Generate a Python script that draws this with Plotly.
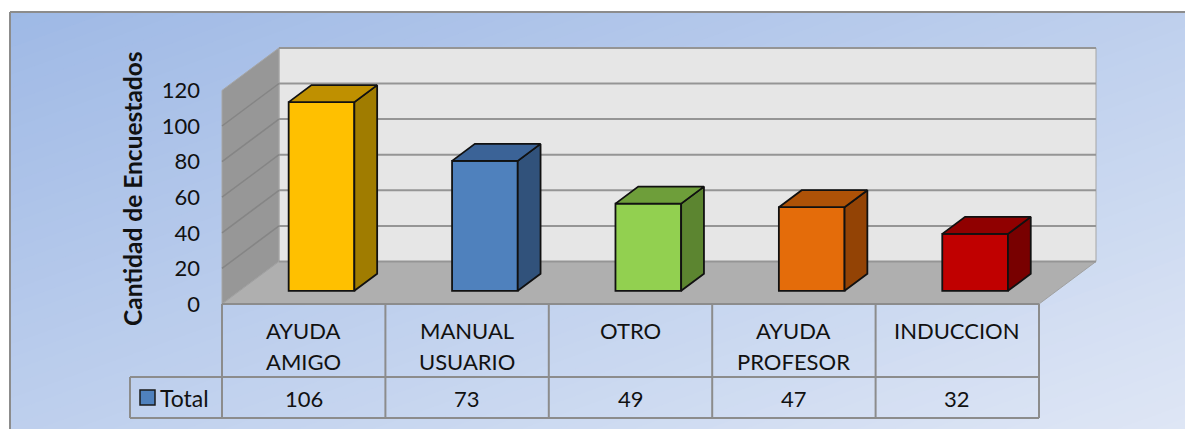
import plotly.graph_objects as go

# ---------------- data ----------------
categories = ["AYUDA\nAMIGO", "MANUAL\nUSUARIO", "OTRO", "AYUDA\nPROFESOR", "INDUCCION"]
values = [106, 73, 49, 47, 32]
series_name = "Total"
y_ticks = [0, 20, 40, 60, 80, 100, 120]
y_title = "Cantidad de Encuestados"

# ---------------- styles ----------------
front_colors = ["#FFC000", "#4F81BD", "#92D050", "#E46C0A", "#C00000"]
top_colors = ["#BF9000", "#3B6397", "#6E9E3A", "#AE5207", "#900000"]
side_colors = ["#A07C00", "#31527B", "#5C8530", "#934305", "#780000"]
FONT = "Lato"

W, H = 1185, 429
CAT_PX = 163.4      # pixel width of one category
X0_PX = 303.7       # pixel x of first category centre
Y0_PX = 304.0       # pixel y of value 0 on the front plane
UNIT_PX = 1.78      # pixels per value unit


def xd(px):
    return (px - X0_PX) / CAT_PX


def yd(py):
    return (Y0_PX - py) / UNIT_PX


DX = 57 / CAT_PX          # full floor depth, horizontal (category units)
DY = 42.5 / UNIT_PX       # full floor depth, vertical (value units)
WALL_TOP = y_ticks[-1]
D0, D1 = 0.31, 0.71       # bar depth span (fraction of floor depth)
BAR_L, BAR_R = -0.092, 0.31
N = len(categories)
XL, XR = -0.5, N - 0.5

fig = go.Figure()

# ---------------- background gradient (paper) ----------------
shapes = []
c_start = (157, 184, 229)
c_end = (222, 230, 245)
nb = 70
lo, hi = -0.05, 1.05
for k in range(nb):
    c0 = lo + (hi - lo) * k / nb
    c1 = lo + (hi - lo) * (k + 1) / nb + 0.003
    t = min(max((c0 + c1) / 2, 0), 1)
    col = "rgb(%d,%d,%d)" % tuple(round(a + (b - a) * t) for a, b in zip(c_start, c_end))
    pts = [(-0.05, -0.05 + 1 - 2 * c0), (1.05, 1.05 + 1 - 2 * c0),
           (1.05, 1.05 + 1 - 2 * c1), (-0.05, -0.05 + 1 - 2 * c1)]
    path = "M " + " L ".join("%f,%f" % p for p in pts) + " Z"
    shapes.append(dict(type="path", xref="paper", yref="paper", path=path,
                       fillcolor=col, line=dict(width=0), layer="below"))
# white outside the chart border
shapes.append(dict(type="rect", xref="paper", yref="paper", x0=-0.01, x1=1.01,
                   y0=1 - 12 / H, y1=1.01, fillcolor="white", line=dict(width=0), layer="below"))
shapes.append(dict(type="rect", xref="paper", yref="paper", x0=-0.01, x1=10 / W,
                   y0=-0.01, y1=1.01, fillcolor="white", line=dict(width=0), layer="below"))
shapes.append(dict(type="line", xref="paper", yref="paper", x0=10 / W, x1=1.01,
                   y0=1 - 12 / H, y1=1 - 12 / H, line=dict(color="#8C8C8C", width=2), layer="below"))
shapes.append(dict(type="line", xref="paper", yref="paper", x0=10 / W, x1=10 / W,
                   y0=-0.01, y1=1 - 12 / H, line=dict(color="#8C8C8C", width=2), layer="below"))


def poly(pts, fill, lc, lw, layer="below"):
    path = "M " + " L ".join("%f,%f" % p for p in pts) + " Z"
    return dict(type="path", xref="x", yref="y", path=path, fillcolor=fill,
                line=dict(color=lc, width=lw), layer=layer)


def seg(x0, y0, x1, y1, col, w):
    return dict(type="line", xref="x", yref="y", x0=x0, y0=y0, x1=x1, y1=y1,
                line=dict(color=col, width=w), layer="below")


# back wall
shapes.append(poly([(XL + DX, DY), (XR + DX, DY), (XR + DX, WALL_TOP + DY), (XL + DX, WALL_TOP + DY)],
                   "#E6E6E6", "#A6A6A6", 1))
# left wall
shapes.append(poly([(XL, 0), (XL + DX, DY), (XL + DX, WALL_TOP + DY), (XL, WALL_TOP)],
                   "#979797", "#A6A6A6", 1))
# floor
shapes.append(poly([(XL, 0), (XR, 0), (XR + DX, DY), (XL + DX, DY)],
                   "#AFAFAF", "#A0A0A0", 1))
# gridlines
for v in y_ticks:
    shapes.append(seg(XL + DX, v + DY, XR + DX, v + DY, "#959595", 2))
    if 0 < v < WALL_TOP:
        shapes.append(seg(XL, v, XL + DX, v + DY, "#858585", 1.5))

# ---------------- data table ----------------
ROW1_BOT = yd(377)
ROW2_BOT = yd(418)
TOT_L = xd(130)
TB = "#8C8C8C"
shapes.append(seg(XL, 0, XR, 0, TB, 2))
shapes.append(seg(TOT_L, ROW1_BOT, XR, ROW1_BOT, TB, 2))
shapes.append(seg(TOT_L, ROW2_BOT, XR, ROW2_BOT, TB, 2))
shapes.append(seg(TOT_L, ROW1_BOT, TOT_L, ROW2_BOT, TB, 2))
for i in range(N + 1):
    shapes.append(seg(XL + i, 0, XL + i, ROW2_BOT, TB, 2))
# legend key
shapes.append(dict(type="rect", xref="x", yref="y", x0=xd(140), x1=xd(155), y0=yd(405), y1=yd(390),
                   fillcolor="#4F81BD", line=dict(color="#1A1A1A", width=1.5), layer="below"))

annotations = []
L1, L2 = yd(330.5), yd(361.7)
for i, (c, v) in enumerate(zip(categories, values)):
    lines = c.split("\n")
    for j, ln in enumerate(lines):
        annotations.append(dict(x=i, y=[L1, L2][j], xref="x", yref="y", text=ln, showarrow=False,
                                font=dict(family=FONT, size=22, color="#111111"),
                                xanchor="center", yanchor="middle"))
    annotations.append(dict(x=i, y=yd(398), xref="x", yref="y", text=str(v), showarrow=False,
                            font=dict(family=FONT, size=22, color="#111111"),
                            xanchor="center", yanchor="middle"))
annotations.append(dict(x=xd(158), y=yd(398), xref="x", yref="y", text=series_name, showarrow=False,
                        font=dict(family=FONT, size=23, color="#111111"),
                        xanchor="left", yanchor="middle"))
annotations.append(dict(x=xd(132), y=yd(189), xref="x", yref="y", text="<b>%s</b>" % y_title,
                        showarrow=False, textangle=-90,
                        font=dict(family=FONT, size=24.5, color="#111111"),
                        xanchor="center", yanchor="middle"))

# ---------------- bars ----------------
base = D0 * DY
dd = D1 - D0
xs = list(range(N))
fig.add_trace(go.Bar(x=xs, y=values, base=[base] * N, offset=BAR_L, width=BAR_R - BAR_L,
                     marker=dict(color=front_colors, line=dict(color="#111111", width=1.8)),
                     name=series_name, showlegend=False, hoverinfo="skip"))
for i, v in enumerate(values):
    x0, x1 = i + BAR_L, i + BAR_R
    top = base + v
    ox, oy = dd * DX, dd * DY
    side = [(x1, base), (x1, top), (x1 + ox, top + oy), (x1 + ox, base + oy), (x1, base)]
    topf = [(x0, top), (x1, top), (x1 + ox, top + oy), (x0 + ox, top + oy), (x0, top)]
    for pts, col in ((side, side_colors[i]), (topf, top_colors[i])):
        fig.add_trace(go.Scatter(x=[p[0] for p in pts], y=[p[1] for p in pts], mode="lines",
                                 fill="toself", fillcolor=col,
                                 line=dict(color="#111111", width=1.8),
                                 showlegend=False, hoverinfo="skip"))

fig.update_layout(
    width=W, height=H,
    margin=dict(l=0, r=0, t=0, b=0),
    paper_bgcolor="white",
    plot_bgcolor="rgba(0,0,0,0)",
    showlegend=False,
    shapes=shapes,
    annotations=annotations,
    xaxis=dict(range=[xd(0), xd(W)], visible=False, fixedrange=True),
    yaxis=dict(range=[yd(H), yd(0)], anchor="free", position=(X0_PX + XL * CAT_PX) / W,
               tickvals=y_ticks, ticktext=[str(t) for t in y_ticks],
               showgrid=False, zeroline=False, showline=False, ticks="",
               ticklabelstandoff=22,
               tickfont=dict(family=FONT, size=22, color="#111111"), fixedrange=True),
    font=dict(family=FONT),
)

fig.write_html("out.html", post_script="document.body.style.margin='0';",
               config={"displayModeBar": False})
